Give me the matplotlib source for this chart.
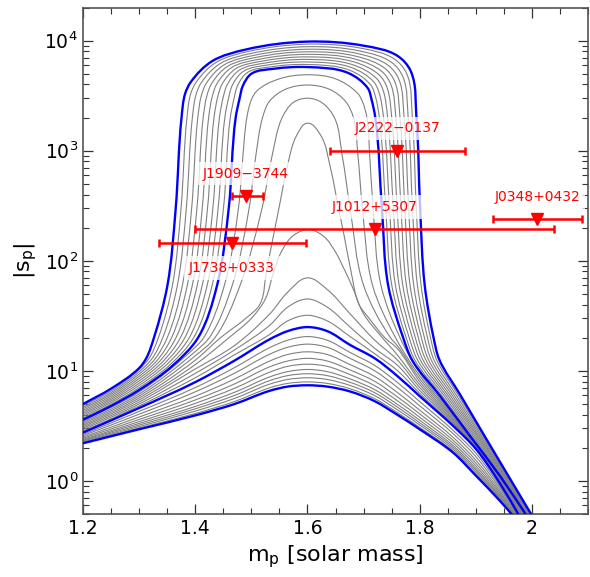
import numpy as np
import matplotlib.pyplot as plt
from matplotlib.path import Path
from matplotlib.patches import PathPatch
from matplotlib.ticker import MultipleLocator, FuncFormatter, LogLocator, NullFormatter

# ---- data ----
# outer family of U shaped curves (outermost first), points along each curve
upper_x = [
    [1.2, 1.25, 1.30, 1.313, 1.3264, 1.3505, 1.3652, 1.3756, 1.382, 1.392, 1.430, 1.490, 1.6, 1.700, 1.760, 1.784, 1.7942, 1.8008, 1.809, 1.8248, 1.8346, 1.872, 1.9077, 1.9433, 2.004],
    [1.2, 1.25, 1.30, 1.3177, 1.3343, 1.3594, 1.3747, 1.3853, 1.3917, 1.4013, 1.437, 1.495, 1.6, 1.6972, 1.7548, 1.777, 1.7869, 1.7940, 1.8025, 1.8194, 1.8298, 1.8684, 1.9059, 1.9433, 2.0031],
    [1.2, 1.25, 1.30, 1.3224, 1.3421, 1.3682, 1.3841, 1.3949, 1.4014, 1.4106, 1.444, 1.500, 1.6, 1.6944, 1.7496, 1.770, 1.7795, 1.7872, 1.7960, 1.8140, 1.8250, 1.8649, 1.9041, 1.9433, 2.0021],
    [1.2, 1.25, 1.30, 1.3271, 1.3500, 1.3771, 1.3936, 1.4046, 1.4111, 1.4199, 1.451, 1.505, 1.6, 1.6916, 1.7444, 1.763, 1.7722, 1.7804, 1.7894, 1.8085, 1.8202, 1.8613, 1.9023, 1.9433, 2.0012],
    [1.2, 1.25, 1.30, 1.3318, 1.3578, 1.3859, 1.4030, 1.4142, 1.4208, 1.4292, 1.458, 1.510, 1.6, 1.6888, 1.7392, 1.756, 1.7649, 1.7736, 1.7829, 1.8031, 1.8154, 1.8578, 1.9005, 1.9433, 2.0003],
    [1.2, 1.25, 1.30, 1.3365, 1.3657, 1.3948, 1.4125, 1.4239, 1.4305, 1.4385, 1.465, 1.515, 1.6, 1.6860, 1.7340, 1.749, 1.7576, 1.7668, 1.7764, 1.7977, 1.8106, 1.8542, 1.8988, 1.9433, 1.9994],
    [1.2, 1.25, 1.30, 1.3412, 1.3736, 1.4036, 1.4219, 1.4335, 1.4402, 1.4478, 1.472, 1.520, 1.6, 1.6832, 1.7288, 1.742, 1.7502, 1.7599, 1.7699, 1.7923, 1.8057, 1.8506, 1.8970, 1.9433, 1.9984],
    [1.2, 1.25, 1.30, 1.3459, 1.3814, 1.4125, 1.4314, 1.4432, 1.4499, 1.4571, 1.479, 1.525, 1.6, 1.6804, 1.7236, 1.735, 1.7429, 1.7531, 1.7634, 1.7869, 1.8009, 1.8471, 1.8952, 1.9433, 1.9975],
    [1.2, 1.25, 1.30, 1.3506, 1.3893, 1.4213, 1.4408, 1.4528, 1.4596, 1.4664, 1.486, 1.530, 1.6, 1.6776, 1.7184, 1.728, 1.7356, 1.7463, 1.7568, 1.7814, 1.7961, 1.8435, 1.8934, 1.9433, 1.9966],
    [1.2, 1.25, 1.30, 1.3553, 1.3971, 1.4302, 1.4503, 1.4625, 1.4693, 1.4757, 1.493, 1.535, 1.6, 1.6748, 1.7132, 1.721, 1.7282, 1.7395, 1.7503, 1.7760, 1.7913, 1.8400, 1.8916, 1.9433, 1.9956],
    [1.2, 1.25, 1.30, 1.36, 1.405, 1.439, 1.4597, 1.4721, 1.479, 1.485, 1.500, 1.540, 1.6, 1.672, 1.708, 1.714, 1.7209, 1.7327, 1.7438, 1.7706, 1.7865, 1.8364, 1.8898, 1.9433, 1.9947],
]
upper_y = [
    [5.0, 6.9, 10.6, 13.1, 20, 60, 300, 2000, 3300, 4200, 6500, 8300, 9800, 9000, 7300, 5300, 2000, 300, 60, 20, 12.8, 6.10, 3.00, 1.485, 0.45],
    [4.84, 6.57, 10.3, 13.0, 20, 60, 300, 2000, 3265, 4169, 6332, 7974, 9290, 8503, 6814, 5000, 2000, 300, 60, 20, 12.78, 6.08, 2.95, 1.442, 0.45],
    [4.68, 6.34, 9.82, 12.8, 20, 60, 300, 2000, 3231, 4139, 6168, 7659, 8810, 8035, 6361, 4715, 2000, 300, 60, 20, 12.75, 6.06, 2.91, 1.40, 0.45],
    [4.53, 6.13, 9.36, 12.6, 20, 60, 300, 2000, 3197, 4108, 6008, 7357, 8350, 7591, 5937, 4446, 2000, 300, 60, 20, 12.72, 6.04, 2.86, 1.36, 0.45],
    [4.38, 5.92, 8.92, 12.4, 20, 60, 300, 2000, 3163, 4078, 5852, 7068, 7920, 7172, 5542, 4193, 2000, 300, 60, 20, 12.70, 6.02, 2.81, 1.32, 0.45],
    [4.24, 5.71, 8.51, 12.2, 20, 60, 300, 2000, 3130, 4048, 5702, 6789, 7510, 6776, 5176, 3955, 2000, 300, 60, 20, 12.68, 6.00, 2.77, 1.283, 0.45],
    [4.10, 5.52, 8.11, 12.0, 20, 60, 300, 2000, 3098, 4018, 5554, 6522, 7120, 6402, 4832, 3729, 2000, 300, 60, 20, 12.65, 5.99, 2.73, 1.246, 0.45],
    [3.97, 5.33, 7.73, 11.8, 20, 60, 300, 2000, 3065, 3988, 5410, 6265, 6750, 6048, 4510, 3517, 2000, 300, 60, 20, 12.63, 5.97, 2.68, 1.21, 0.45],
    [3.84, 5.15, 7.37, 11.6, 20, 60, 300, 2000, 3033, 3959, 5270, 6018, 6400, 5714, 4211, 3317, 2000, 300, 60, 20, 12.60, 5.95, 2.64, 1.175, 0.45],
    [3.72, 4.97, 7.03, 11.4, 20, 60, 300, 2000, 3002, 3929, 5133, 5780, 6070, 5398, 3931, 3128, 2000, 300, 60, 20, 12.58, 5.93, 2.60, 1.141, 0.45],
    [3.6, 4.8, 6.7, 11.2, 20, 60, 300, 2000, 2970, 3900, 5000, 5550, 5750, 5100, 3670, 2950, 2000, 300, 60, 20, 12.55, 5.91, 2.56, 1.108, 0.45],
]

# inner U curves and the first bump
mid_x = [
    [1.2, 1.30, 1.40, 1.415, 1.452, 1.477, 1.485, 1.492, 1.50, 1.51, 1.55, 1.60, 1.65, 1.69, 1.698, 1.706, 1.711, 1.717, 1.731, 1.765, 1.80, 1.86, 1.90, 1.943, 1.9932],
    [1.2, 1.30, 1.40, 1.425, 1.466, 1.496, 1.508, 1.520, 1.532, 1.56, 1.60, 1.64, 1.668, 1.682, 1.690, 1.698, 1.716, 1.757, 1.80, 1.86, 1.90, 1.943, 1.9917],
    [1.2, 1.30, 1.40, 1.435, 1.48, 1.519, 1.537, 1.555, 1.575, 1.60, 1.625, 1.648, 1.662, 1.676, 1.700, 1.748, 1.76, 1.80, 1.86, 1.90, 1.943, 1.9901],
    [1.2, 1.30, 1.40, 1.445, 1.49, 1.515, 1.527, 1.539, 1.551, 1.563, 1.581, 1.60, 1.6235, 1.6415, 1.6536, 1.6658, 1.6775, 1.692, 1.71, 1.738, 1.76, 1.80, 1.86, 1.90, 1.943, 1.9886],
    [1.2, 1.30, 1.40, 1.46, 1.50, 1.525, 1.54, 1.555, 1.575, 1.603, 1.63, 1.65, 1.665, 1.68, 1.70, 1.73, 1.76, 1.80, 1.86, 1.90, 1.943, 1.9871],
]
mid_y = [
    [3.49, 6.43, 16.4, 20, 60, 300, 900, 2000, 2900, 3500, 4500, 4900, 4500, 3300, 2800, 2000, 900, 300, 60, 20, 9.60, 3.97, 2.155, 1.091, 0.45],
    [3.39, 6.16, 15.0, 20, 60, 300, 900, 2000, 2800, 3600, 3950, 3600, 2800, 2000, 900, 300, 60, 20, 9.03, 3.85, 2.13, 1.072, 0.45],
    [3.29, 5.91, 13.7, 20, 60, 300, 900, 2000, 2750, 3000, 2750, 2000, 900, 300, 60, 20, 17, 8.50, 3.74, 2.10, 1.054, 0.45],
    [3.19, 5.67, 12.5, 20, 30, 40, 81, 165, 335, 680, 1384, 1780, 1384, 680, 335, 165, 81, 40, 30, 20, 16, 8.00, 3.64, 2.08, 1.036, 0.45],
    [3.10, 5.44, 11.4, 20, 30, 45, 80, 125, 170, 192, 165, 120, 85, 58, 33, 21, 14, 7.53, 3.53, 2.055, 1.018, 0.45],
]

# lower family of bumps, sampled at common masses
lower_m = [1.2, 1.30, 1.40, 1.47, 1.533, 1.565, 1.60, 1.635, 1.676, 1.72, 1.76, 1.80, 1.86, 1.90, 1.943]
lower_s = [
    [3.01, 5.21, 10.4, 17.0, 33.0, 52.0, 70.0, 55.0, 33.0, 19.0, 12.6, 7.08, 3.43, 2.03, 1.001],
    [2.92, 5.00, 9.49, 15.5, 26.0, 38.0, 45.0, 38.0, 25.0, 16.0, 11.3, 6.66, 3.34, 2.007, 0.984],
    [2.83, 4.80, 8.66, 14.0, 21.5, 28.5, 32.0, 28.5, 20.5, 14.3, 10.1, 6.27, 3.24, 1.98, 0.967],
    [2.75, 4.60, 7.90, 12.4, 19.4, 23.0, 25.0, 23.0, 17.2, 13.0, 9.00, 5.90, 3.15, 1.96, 0.950],
    [2.65, 4.28, 7.05, 10.7, 16.3, 19.0, 20.5, 19.0, 14.7, 11.2, 7.88, 5.27, 2.87, 1.79, 0.895],
    [2.58, 4.04, 6.45, 9.52, 14.2, 16.4, 17.5, 16.4, 13.0, 10.0, 7.11, 4.82, 2.68, 1.665, 0.855],
    [2.50, 3.81, 5.88, 8.44, 12.3, 14.1, 14.9, 14.1, 11.4, 8.89, 6.38, 4.40, 2.48, 1.546, 0.814],
    [2.44, 3.62, 5.44, 7.61, 10.9, 12.3, 13.0, 12.3, 10.2, 8.03, 5.82, 4.07, 2.33, 1.452, 0.781],
    [2.38, 3.46, 5.07, 6.95, 9.75, 11.0, 11.5, 11.0, 9.25, 7.33, 5.37, 3.79, 2.20, 1.371, 0.753],
    [2.34, 3.33, 4.75, 6.39, 8.83, 9.85, 10.3, 9.85, 8.45, 6.75, 4.98, 3.56, 2.09, 1.302, 0.728],
    [2.30, 3.22, 4.52, 5.98, 8.17, 9.06, 9.42, 9.06, 7.88, 6.33, 4.70, 3.38, 2.01, 1.251, 0.709],
    [2.26, 3.12, 4.31, 5.62, 7.59, 8.36, 8.66, 8.36, 7.37, 5.95, 4.44, 3.23, 1.93, 1.204, 0.692],
    [2.23, 3.03, 4.10, 5.27, 7.03, 7.70, 7.94, 7.70, 6.88, 5.58, 4.19, 3.07, 1.86, 1.157, 0.674],
    [2.20, 2.95, 3.94, 5.00, 6.60, 7.20, 7.40, 7.20, 6.50, 5.30, 4.00, 2.95, 1.80, 1.120, 0.660],
]
lower_end = [1.9856, 1.9841, 1.9826, 1.981, 1.9794, 1.9782, 1.9770, 1.9759, 1.9750, 1.9741, 1.9734, 1.9727, 1.9721, 1.9715]

blue_upper = [0, 10]
blue_lower = [3, 13]

# pulsar limits
psr_name = ['J2222\u22120137', 'J1909\u22123744', 'J0348+0432', 'J1012+5307', 'J1738+0333']
psr_mass = [1.76, 1.49, 2.01, 1.72, 1.465]
psr_lo = [1.64, 1.465, 1.93, 1.40, 1.335]
psr_hi = [1.88, 1.52, 2.09, 2.04, 1.597]
psr_sp = [1000, 390, 240, 195, 145]


def curve(ax, xs, ys, color, lw, z):
    # smooth bezier path through the read points (done in x / log y space)
    p = np.column_stack([np.asarray(xs) * 561.0, np.log10(ys) * 110.0])
    seg = np.diff(p, axis=0)
    ln = np.hypot(seg[:, 0], seg[:, 1])
    u = seg / ln[:, None]
    t = np.vstack([u[:1], u[:-1] + u[1:], u[-1:]])
    t /= np.hypot(t[:, 0], t[:, 1])[:, None]
    verts = [p[0]]
    for i in range(len(p) - 1):
        verts += [p[i] + t[i] * ln[i] / 3, p[i + 1] - t[i + 1] * ln[i] / 3, p[i + 1]]
    v = np.array(verts)
    v = np.column_stack([v[:, 0] / 561.0, 10 ** (v[:, 1] / 110.0)])
    codes = [Path.MOVETO] + [Path.CURVE4] * (len(v) - 1)
    ax.add_patch(PathPatch(Path(v, codes), fill=False, edgecolor=color, lw=lw, zorder=z))


fig = plt.figure(figsize=(5.9, 5.77), dpi=100)
ax = fig.add_axes([0.1407, 0.109, 0.8559, 0.878])
ax.set_yscale('log')
ax.set_xlim(1.2, 2.1)
ax.set_ylim(0.5, 2e4)

gray = '#808080'
for i in range(len(upper_x)):
    if i not in blue_upper:
        curve(ax, upper_x[i], upper_y[i], gray, 0.8, 2)
for i in range(len(mid_x)):
    curve(ax, mid_x[i], mid_y[i], gray, 0.8, 2)
for i in range(len(lower_s)):
    if i not in blue_lower:
        curve(ax, lower_m + [lower_end[i]], lower_s[i] + [0.45], gray, 0.8, 2)

for i in blue_upper:
    curve(ax, upper_x[i], upper_y[i], 'blue', 1.7, 3)
for i in blue_lower:
    curve(ax, lower_m + [lower_end[i]], lower_s[i] + [0.45], 'blue', 1.7, 3)

offs = [16, 16, 16, 16, -18]
for name, m, lo, hi, s, dy in zip(psr_name, psr_mass, psr_lo, psr_hi, psr_sp, offs):
    ax.errorbar(m, s, xerr=[[m - lo], [hi - m]], fmt='v', color='red', ms=9,
                elinewidth=1.8, capsize=3, capthick=1.8, zorder=6)
    ax.annotate(name, (m, s), xytext=(0, dy), textcoords='offset points',
                ha='center', va='center', color='red', fontsize=10, zorder=5,
                bbox=dict(boxstyle='square,pad=0.35', facecolor='white',
                          edgecolor='none', alpha=0.75))

ax.xaxis.set_major_locator(MultipleLocator(0.2))
ax.xaxis.set_minor_locator(MultipleLocator(0.05))
ax.xaxis.set_major_formatter(FuncFormatter(lambda v, p: '%g' % round(v, 2)))
ax.yaxis.set_major_locator(LogLocator(base=10, numticks=10))
ax.yaxis.set_minor_locator(LogLocator(base=10, subs=np.arange(2, 10), numticks=20))
ax.yaxis.set_minor_formatter(NullFormatter())
ax.tick_params(which='both', direction='in', top=True, right=True,
               labelsize=13.5, color='#333333')
ax.tick_params(which='major', length=7, width=0.9)
ax.tick_params(which='minor', length=4, width=0.8)
for sp in ax.spines.values():
    sp.set_color('#555555')
    sp.set_linewidth(1.2)

ax.set_xlabel(r'$\mathrm{m_p}$ [solar mass]', fontsize=16)
ax.set_ylabel(r'$|\mathrm{s_p}|$', fontsize=16)

fig.savefig('out.png', dpi=100)
